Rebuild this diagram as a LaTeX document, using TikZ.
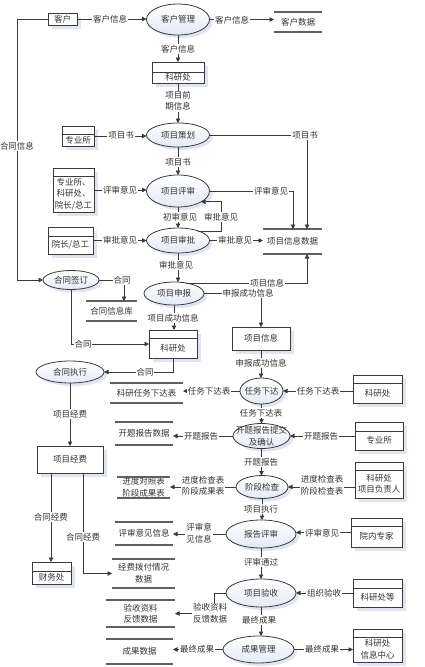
\documentclass[tikz,border=0pt]{standalone}
\usepackage{fontspec}
\setmainfont{Noto Sans CJK SC}
\usetikzlibrary{arrows.meta,shapes.geometric,shadows}
\definecolor{ln}{HTML}{3A3A3A}
\definecolor{shd}{HTML}{DDE4F0}
\definecolor{ellb}{HTML}{E4E9F3}
\definecolor{txtc}{HTML}{333333}
\tikzset{
 base/.style={font=\fontsize{8.5pt}{11.5pt}\selectfont, text=txtc},
 conn/.style={draw=ln, line width=0.8pt},
 arr/.style={conn, -{Triangle[length=4.5pt,width=4.5pt]}},
 lab/.style={base, fill=white, inner sep=0.8pt, align=center},
 txt/.style={base, inner sep=0pt, align=center},
 procnode/.style={ellipse, draw=ln, line width=0.8pt, inner sep=0pt, outer sep=0pt,
   top color=white, bottom color=ellb,
   drop shadow={shadow xshift=3pt, shadow yshift=-3pt, fill=shd, opacity=0.9}},
 entbox/.style={rectangle, draw=ln, line width=0.8pt, fill=white, inner sep=0pt, outer sep=0pt,
   drop shadow={shadow xshift=4pt, shadow yshift=-4pt, fill=shd, opacity=0.9}},
 storenode/.style={base, inner sep=0pt, outer sep=0pt, align=center},
 storeline/.style={draw=gray!75!black, line width=1.1pt},
}
\newcommand\ent[7]{%
 \node[entbox, minimum width=#4pt, minimum height=#5pt] (#1) at (#2,#3) {};
 \draw[conn] ([yshift=-#6pt]#1.north west) -- ([yshift=-#6pt]#1.north east);
 \node[txt] (#1t) at ([yshift=-#6*0.5pt]#1.center) {#7};
}
\newcommand\plainbx[6]{%
 \node[entbox, minimum width=#4pt, minimum height=#5pt] (#1) at (#2,#3) {};
 \node[txt] (#1t) at (#1.center) {#6};
}
\newcommand\proc[6]{%
 \node[procnode, minimum width={2*#4pt}, minimum height={2*#5pt}] (#1) at (#2,#3) {};
 \node[txt] (#1t) at (#1.center) {#6};
}
\newcommand\store[6]{%
 \node[storenode, minimum width=#4pt, minimum height=#5pt] (#1) at (#2,#3) {#6};
 \draw[storeline] (#1.north west) -- (#1.north east) (#1.south west) -- (#1.south east);
}
\begin{document}
\begin{tikzpicture}[x=1pt,y=-1pt]
\useasboundingbox[fill=white] (0,0) rectangle (424,667);
% entities
\plainbx{kh}{62.5}{19}{29}{12}{客户}
\ent{kyc1}{178}{72.5}{52}{21}{10}{科研处}
\ent{zys1}{78}{136}{32}{20}{8}{专业所}
\ent{pro3}{73.5}{190}{41}{44}{8}{专业所、\\科研处、\\院长/总工}
\ent{yz}{70.5}{240.5}{45}{27}{9}{院长/总工}
\ent{kyc2}{173}{344}{48}{28}{8}{科研处}
\ent{kyc3}{377.5}{389}{49}{28}{8}{科研处}
\ent{zys2}{379}{436}{48}{28}{9}{专业所}
\ent{fzr}{379}{480}{48}{36}{8}{科研处\\项目负责人}
\ent{cwc}{51.5}{573}{39}{22}{9}{财务处}
\ent{ynzj}{376.5}{532.5}{51}{29}{8}{院内专家}
\ent{kycd}{377.5}{593}{49}{28}{9}{科研处等}
\ent{xxzx}{377.5}{645.5}{49}{33}{8}{科研处\\信息中心}
\plainbx{xmxx}{261}{338.5}{58}{23}{项目信息}
\plainbx{xmjf}{70}{459.5}{66}{27}{项目经费}
% processes
\proc{khgl}{178}{19.5}{31.5}{15.5}{客户管理}
\proc{xmch}{178}{135}{31.5}{12}{项目策划}
\proc{xmps}{178}{191}{31.5}{16}{项目评审}
\proc{xmsp}{178}{240.5}{31.5}{12.5}{项目审批}
\proc{htqd}{71}{280}{28}{9.5}{合同签订}
\proc{xmsb}{174}{293.5}{30}{11.5}{项目申报}
\proc{htzx}{70}{372}{34}{11}{合同执行}
\proc{rwxd}{261.5}{391}{21.5}{13}{任务下达}
\proc{ktbg}{261.5}{436}{28.5}{12.5}{开题报告提交\\及确认}
\proc{jdjc}{262}{487}{26}{11.5}{阶段检查}
\proc{bgps}{261}{534}{35}{14}{报告评审}
\proc{xmys}{261}{593}{35}{14}{项目验收}
\proc{cggl}{258.5}{649.5}{35.5}{13.5}{成果管理}
% stores
\store{khsj}{298}{22}{48}{20}{客户数据}
\store{xmxxsj}{292.5}{241.5}{59}{25}{项目信息数据}
\store{htxxk}{111.5}{311}{51}{20}{合同信息库}
\store{rwxdb}{146.5}{393}{73}{20}{科研任务下达表}
\store{ktsj}{144}{433.5}{58}{23}{开题报告数据}
\store{jddz}{143.5}{487.5}{53}{21}{进度对照表\\阶段成果表}
\store{psyj}{144}{533.5}{58}{23}{评审意见信息}
\store{jfbf}{143.5}{573.5}{63}{29}{经费拨付情况\\数据}
\store{ysz}{140.5}{613.5}{69}{27}{验收资料\\反馈数据}
\store{cgsj}{139.5}{651.5}{67}{25}{成果数据}
% connectors
\draw[arr] (kh.west) -| (17,280) -- (htqd.west);
\draw[arr] (kh.east) -- (kh.east -| khgl.west);
\draw[arr] (khgl.east) -- (khgl.east -| khsj.west);
\draw[arr] (khgl.south) -- (kyc1.north);
\draw[arr] (kyc1.south) -- (xmch.north);
\draw[arr] (zys1.east) -- (zys1.east -| xmch.west);
\draw[arr] (xmch.east) -| ([xshift=14.5pt]xmxxsj.north);
\draw[arr] (xmch.south) -- (xmps.north);
\draw[arr] (pro3.east) -- (pro3.east -| xmps.west);
\draw[arr] (xmps.east) -| ([xshift=0.5pt]xmxxsj.north);
\draw[arr] (xmps.south) -- (xmsp.north);
\draw[arr] (xmsp.25) -| ([xshift=20pt]xmps.-25) -- (xmps.-25);
\draw[arr] (yz.east) -- (yz.east -| xmsp.west);
\draw[arr] (xmsp.east) -- (xmsp.east -| xmxxsj.west);
\draw[arr] (xmsp.south) -- (xmsp.south |- xmsb.north);
\draw[arr] (xmsb.40) -| ([xshift=14.5pt]xmxxsj.south);
\draw[arr] (xmsb.east) -| (xmxx.north);
\draw[arr] (xmxx.south) -- (xmxx.south |- rwxd.north);
\draw[arr] (htqd.east) -| ([xshift=12.5pt]htxxk.north);
\draw[arr] (htqd.south) |- (kyc2.west);
\draw[arr] (xmsb.south) -- (xmsb.south |- kyc2.north);
\draw[arr] (kyc2.south) |- (htzx.east);
\draw[arr] (htzx.south) -- (htzx.south |- xmjf.north);
\draw[arr] ([yshift=-2pt]kyc3.west) -- ([yshift=-2pt]kyc3.west -| rwxd.east);
\draw[arr] (rwxd.west) -- (rwxd.west -| rwxdb.east);
\draw[arr] (rwxd.south) -- (rwxd.south |- ktbg.north);
\draw[arr] (zys2.west) -- (zys2.west -| ktbg.east);
\draw[arr] (ktbg.west) -- (ktbg.west -| ktsj.east);
\draw[arr] (ktbg.south) -- (ktbg.south |- jdjc.north);
\draw[arr] ([yshift=-7pt]fzr.west) -- ([yshift=-7pt]fzr.west -| jdjc.east);
\draw[arr] (jdjc.west) -- (jdjc.west -| jddz.east);
\draw[arr] (jdjc.south) -- (jdjc.south |- bgps.north);
\draw[arr] (ynzj.west) -- (ynzj.west -| bgps.east);
\draw[arr] (bgps.west) -- (bgps.west -| psyj.east);
\draw[arr] (bgps.south) -- (bgps.south |- xmys.north);
\draw[arr] (kycd.west) -- (kycd.west -| xmys.east);
\draw[arr] (xmys.west) -| ([xshift=39pt]ysz.east) -- (ysz.east);
\draw[arr] (xmys.south) -- (xmys.south |- cggl.north);
\draw[arr] (cggl.east) -- (cggl.east -| xxzx.west);
\draw[arr] (cggl.west) -- (cggl.west -| cgsj.east);
\draw[arr] ([xshift=-19pt]xmjf.south) -- ([xshift=-19pt]xmjf.south |- cwc.north);
\draw[arr] ([xshift=13pt]xmjf.south) |- (jfbf.west);
% labels
\node[lab] (l1) at (17,146) {合同信息};
\node[lab] (l2) at (110,19) {客户信息};
\node[lab] (l3) at (232,20) {客户信息};
\node[lab] (l4) at (178,49) {客户信息};
\node[lab] (l5) at (178,101) {项目前\\期信息};
\node[lab] (l6) at (121,135.5) {项目书};
\node[lab] (l7) at (305,135) {项目书};
\node[lab] (l8) at (178,162) {项目书};
\node[lab] (l9) at (120,190) {评审意见};
\node[lab] (l10) at (271,191) {评审意见};
\node[lab] (l11) at (180,217) {初审意见};
\node[lab] (l12) at (221,217) {审批意见};
\node[lab] (l13) at (120,240.5) {审批意见};
\node[lab] (l14) at (235,240.5) {审批意见};
\node[lab] (l15) at (176,265) {审批意见};
\node[lab] (l16) at (267,283) {项目信息};
\node[lab] (l17) at (248,293.5) {申报成功信息};
\node[lab] (l18) at (261,363) {申报成功信息};
\node[lab] (l19) at (122,280) {合同};
\node[lab] (l20) at (83,344) {合同};
\node[lab] (l21) at (173,318) {项目成功信息};
\node[lab] (l22) at (145,372) {合同};
\node[lab] (l23) at (70,414) {项目经费};
\node[lab] (l24) at (318,391) {任务下达表};
\node[lab] (l25) at (209,391) {任务下达表};
\node[lab] (l26) at (261,413) {任务下达表};
\node[lab] (l27) at (321,436) {开题报告};
\node[lab] (l28) at (201,436) {开题报告};
\node[lab] (l29) at (261,462) {开题报告};
\node[lab] (l30) at (322,485) {进度检查表\\阶段检查表};
\node[lab] (l31) at (203,486) {进度检查表\\阶段成果表};
\node[lab] (l32) at (261,509) {项目执行};
\node[lab] (l33) at (322,533) {评审意见};
\node[lab] (l34) at (199,533) {评审意\\见信息};
\node[lab] (l35) at (261,562) {评审通过};
\node[lab] (l36) at (324,593) {组织验收};
\node[lab] (l37) at (210,613) {验收资料\\反馈数据};
\node[lab] (l38) at (259,620) {最终成果};
\node[lab] (l39) at (322,649) {最终成果};
\node[lab] (l40) at (197,649) {最终成果};
\node[lab] (l41) at (51,517) {合同经费};
\node[lab] (l42) at (83,537) {合同经费};
\end{tikzpicture}
\end{document}
